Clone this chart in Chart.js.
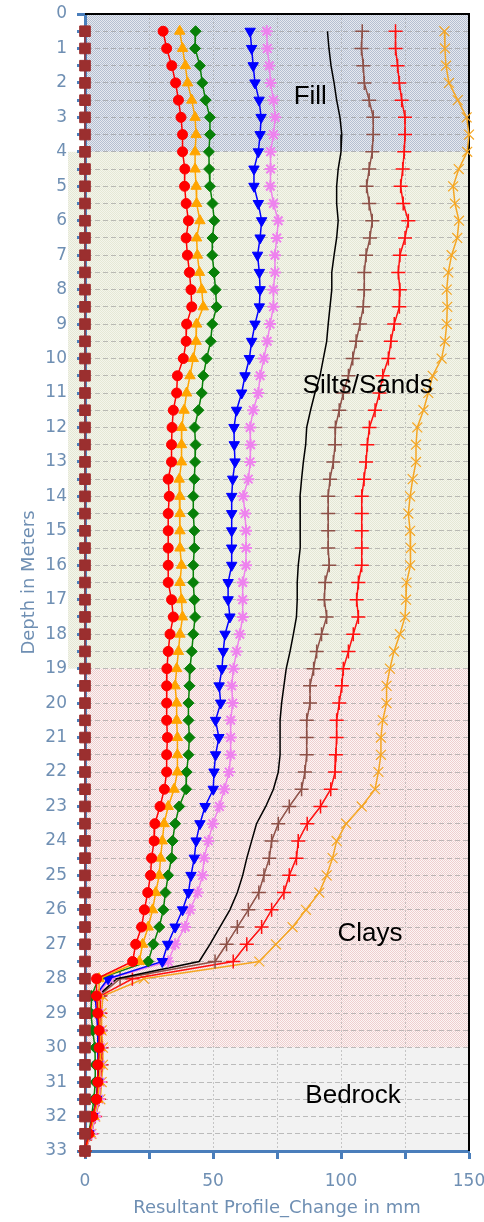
<!DOCTYPE html>
<html>
<head>
<meta charset="utf-8">
<script src="https://cdn.jsdelivr.net/npm/chart.js@4.4.1/dist/chart.umd.min.js"></script>
<style>
    html, body { margin: 0; padding: 0; background: #ffffff; }
    #contenedor { width: 484px; height: 1222px; position: relative; }
</style>
</head>
<body>
<div id="contenedor"><canvas id="grafica-perfil"></canvas></div>
<script>
// Profundidad en metros (eje vertical)
const profundidades = [
    0.5, 1, 1.5, 2, 2.5, 3, 3.5, 4, 4.5, 5,
    5.5, 6, 6.5, 7, 7.5, 8, 8.5, 9, 9.5, 10,
    10.5, 11, 11.5, 12, 12.5, 13, 13.5, 14, 14.5, 15,
    15.5, 16, 16.5, 17, 17.5, 18, 18.5, 19, 19.5, 20,
    20.5, 21, 21.5, 22, 22.5, 23, 23.5, 24, 24.5, 25,
    25.5, 26, 26.5, 27, 27.5, 28, 28.5, 29, 29.5, 30,
    30.5, 31, 31.5, 32, 32.5, 33
];

// Cambio de perfil en mm para cada lectura
const lecturaBase = [
    0, 0, 0, 0, 0, 0, 0, 0, 0, 0,
    0, 0, 0, 0, 0, 0, 0, 0, 0, 0,
    0, 0, 0, 0, 0, 0, 0, 0, 0, 0,
    0, 0, 0, 0, 0, 0, 0, 0, 0, 0,
    0, 0, 0, 0, 0, 0, 0, 0, 0, 0,
    0, 0, 0, 0, 0, 0, 0, 0, 0, 0,
    0, 0, 0, 0, 0, 0
];
const lecturaCirculos = [
    30.5, 31.9, 33.9, 35.4, 36.5, 37.5, 38.1, 38.1, 39, 38.9,
    39.5, 40.4, 39.5, 40, 40.8, 41.4, 41.7, 39.7, 39.5, 38.4,
    36.1, 35.8, 34.5, 34, 33.8, 33.8, 32.5, 32.9, 32.5, 32.5,
    32.5, 32.5, 32.5, 33.8, 34.5, 33.2, 32.5, 32, 31.9, 31.9,
    31.9, 32.2, 31.9, 31.9, 31, 29.3, 27.3, 27, 26, 25.6,
    24.5, 23.2, 22.1, 19.8, 18.6, 4.5, 4.5, 5, 5.5, 5.5,
    5, 5, 4.5, 3, 1.5, 0
];
const lecturaTriangulos = [
    37, 38.1, 39.2, 40.1, 41.7, 43, 43.4, 43, 43, 43.4,
    43.6, 44.9, 43.6, 43.9, 44.7, 45.6, 46.2, 43.6, 43.4, 42.3,
    41, 39.7, 38.7, 37.8, 37.7, 37.7, 36.8, 37.1, 37.1, 37.1,
    37.1, 37.7, 37.1, 37.7, 38.1, 37.1, 36.5, 35.8, 35.2, 35.8,
    35.8, 36.1, 36.1, 36.1, 34.8, 32.5, 30.9, 30.2, 29.5, 29,
    27.6, 26.4, 24.7, 22.5, 21.2, 5.5, 5.5, 5.5, 6, 6,
    6, 5.5, 5, 3.5, 2, 0
];
const lecturaRombos = [
    43.2, 43, 44.9, 45.8, 47.1, 48.8, 48.8, 48.4, 48.5, 48.8,
    49.8, 50.5, 49.8, 49.7, 50.4, 51, 51.4, 49.7, 49.1, 47.5,
    46.2, 45.6, 44.3, 42.8, 43.2, 43, 42.7, 42.3, 42.3, 42.7,
    42.7, 42.3, 42.3, 42.7, 43, 42.3, 41.7, 41, 40.8, 40.4,
    40.4, 40.8, 40.4, 39.7, 39.5, 36.8, 35.2, 34.2, 33.8, 32.5,
    31.4, 30.6, 29, 26.7, 24.7, 5.2, 2.6, 2.3, 3, 3.9,
    4, 4, 3.5, 2.5, 1.5, 0
];
const lecturaInvertidos = [
    64.5, 65.1, 65.7, 66.4, 68, 68.8, 68.4, 67.7, 66, 66,
    67.7, 69, 68.4, 67.4, 68.1, 68.4, 68.1, 66.4, 65.1, 64.2,
    62.5, 61.2, 59.2, 58.2, 58.3, 58.6, 57.7, 57.3, 57.3, 57.3,
    57.3, 57.3, 55.9, 55.9, 56.6, 54.7, 54, 53.5, 52.4, 53,
    51, 52.3, 51, 50.4, 50.1, 46.9, 44.9, 43.4, 42.7, 41.4,
    40.4, 38.1, 35.2, 32.3, 30.2, 9, 4, 4.5, 5, 5,
    5, 5, 4.5, 3, 1.5, 0
];
const lecturaEstrellas = [
    71, 71.2, 72, 72.5, 73.6, 74.3, 73.6, 72.5, 72.5, 72.4,
    73.6, 75.5, 74.9, 74.2, 74.2, 73.6, 73.6, 72.3, 71.2, 69.9,
    68.4, 67.7, 65.7, 64.5, 64.7, 64.5, 63.8, 61.8, 62.5, 62.9,
    62.9, 62.9, 61.6, 61.6, 61.6, 60.5, 59.2, 58, 57.3, 57.7,
    56.9, 56.9, 56.9, 56.3, 54.4, 52.5, 49.9, 48.2, 46.5, 45.9,
    44, 41, 39.1, 35.2, 32.5, 9.5, 5, 5.5, 6, 6,
    6, 6, 5.5, 4, 2.5, 0
];
const lecturaNegra = [
    94.7, 95.3, 96.1, 97.3, 98.3, 99.6, 100.3, 100, 98.9, 98.3,
    98.3, 98.9, 98.3, 97.3, 96.4, 96.4, 95.7, 95, 94.4, 93.1,
    91.8, 89.8, 88.1, 86.6, 86.2, 85.3, 84.6, 84, 84.2, 84,
    84, 83.3, 82.9, 82.9, 82.6, 81.4, 80.1, 78.6, 77.7, 76.8,
    76.2, 76.2, 76.2, 75.5, 73.6, 70.6, 67, 65.1, 63.2, 61.6,
    59.5, 56.6, 52.7, 48.8, 44.6, 12.4, 5, 5, 5.5, 5.5,
    5.5, 5, 4.5, 3, 2, 0
];
const lecturaCrucesMarron = [
    108.3, 108, 108.7, 109.1, 111, 112.6, 112.6, 112.2, 111, 110,
    111, 112.2, 111.3, 109.8, 109.1, 109.1, 108.7, 107.4, 105.9, 104.6,
    102.9, 100.9, 99.3, 97.8, 97.7, 97, 95.7, 95, 95, 95,
    95, 95.4, 93.8, 93.5, 94.4, 92.4, 90.5, 89.3, 87.9, 87.9,
    86.6, 86.6, 86.6, 85.9, 84.6, 79.8, 75.5, 72.9, 72, 69.9,
    67.9, 63.8, 59.5, 55.3, 50.8, 13.7, 5.5, 5.5, 6, 6,
    6, 5.5, 5, 3.5, 2, 0
];
const lecturaCrucesRojas = [
    121.3, 121.3, 122.1, 122.8, 123.7, 125, 125, 124.7, 124.1, 123.3,
    124.3, 126.3, 125, 123, 122.4, 123, 122.8, 120.8, 119.5, 118.5,
    116.3, 115, 113.3, 111.1, 110.3, 109.8, 109, 108.1, 108.1, 108.1,
    108.1, 108.1, 106.8, 106.1, 106.8, 104.8, 102.9, 100.9, 100.3, 99.3,
    98.3, 98.3, 98, 97.7, 96, 92, 86.8, 83.3, 82.6, 79.8,
    77.7, 72.9, 69, 63.2, 57.9, 18.5, 6, 6, 6, 6.5,
    6.5, 6, 5.5, 4, 2.5, 0
];
const lecturaAspas = [
    140.4, 140.6, 141, 142.2, 145.6, 149.1, 150, 149.3, 146, 143.8,
    144.5, 146.1, 145.4, 143.2, 141.9, 141.3, 141.5, 141.3, 140.6, 139.3,
    135.8, 134.1, 132.2, 129.8, 129.3, 129.3, 128, 127, 126.3, 127,
    127.3, 127, 125.6, 125.4, 125, 123, 120.7, 119.1, 117.8, 117.8,
    116.3, 115.6, 115.6, 114.6, 113.3, 108.1, 102, 98.3, 96.7, 94.4,
    91.5, 86.3, 81.1, 74.6, 68.1, 23, 7, 6.5, 6.5, 7,
    7, 6.5, 6, 4, 2.5, 0
];

// Estratos del terreno
const zonaNombres = ["Fill", "Silts/Sands", "Clays", "Bedrock"];
const zonaInicio = [0, 4, 19, 30];
const zonaFin = [4, 19, 30, 33];

const colorEje = "#4a7ebb";
const colorTexto = "#6f8fb3";

function serie(etiqueta, valores, color, estilo) {
    return {
        label: etiqueta,
        data: valores.map((valor, i) => ({ x: valor, y: profundidades[i] })),
        borderColor: color,
        backgroundColor: color,
        showLine: true,
        borderWidth: 1.5,
        pointBorderWidth: 1,
        clip: false,
        ...estilo
    };
}

function crearPatron(ctx, claro, oscuro) {
    const lienzo = document.createElement("canvas");
    lienzo.width = 2;
    lienzo.height = 2;
    const c = lienzo.getContext("2d");
    c.fillStyle = claro;
    c.fillRect(0, 0, 2, 2);
    c.fillStyle = oscuro;
    c.fillRect(0, 0, 1, 1);
    c.fillRect(1, 1, 1, 1);
    return ctx.createPattern(lienzo, "repeat");
}

const pluginZonas = {
    id: "zonas",
    beforeDraw(chart) {
        const { ctx, chartArea, scales } = chart;
        const rellenos = [
            crearPatron(ctx, "#e6e9f0", "#b5bfd1"),
            crearPatron(ctx, "#f4f5ec", "#e5e8d5"),
            crearPatron(ctx, "#fcf5f5", "#efcfcf"),
            "#f2f2f2"
        ];
        ctx.save();
        zonaInicio.forEach((inicio, i) => {
            const y1 = scales.y.getPixelForValue(inicio);
            const y2 = scales.y.getPixelForValue(zonaFin[i]);
            const izquierda = i === 1 ? chartArea.left - 17 : chartArea.left;
            ctx.fillStyle = rellenos[i];
            ctx.fillRect(izquierda, y1, chartArea.right - izquierda, y2 - y1);
        });
        ctx.restore();
    },
    beforeDatasetsDraw(chart) {
        const { ctx, chartArea } = chart;
        ctx.save();
        ctx.strokeStyle = "#000000";
        ctx.lineWidth = 2;
        ctx.beginPath();
        ctx.moveTo(chartArea.left, chartArea.top);
        ctx.lineTo(chartArea.right, chartArea.top);
        ctx.lineTo(chartArea.right, chartArea.bottom);
        ctx.stroke();
        ctx.restore();
    },
    afterDatasetsDraw(chart, args, opciones) {
        const { ctx, scales } = chart;
        ctx.save();
        ctx.fillStyle = "#000000";
        ctx.font = "26px 'Liberation Sans', Arial, sans-serif";
        ctx.textAlign = "center";
        ctx.textBaseline = "middle";
        zonaNombres.forEach((nombre, i) => {
            const pos = opciones.posiciones[i];
            ctx.fillText(nombre, scales.x.getPixelForValue(pos.x), scales.y.getPixelForValue(pos.y));
        });
        ctx.restore();
    }
};

const datasets = [
    serie("Base", lecturaBase, "#9b2f2f", { pointStyle: "rect", pointRadius: 7.5 }),
    serie("Lectura 1", lecturaCirculos, "#ff0000", { pointStyle: "circle", pointRadius: 5 }),
    serie("Lectura 2", lecturaTriangulos, "#ffa500", { pointStyle: "triangle", pointRadius: 6 }),
    serie("Lectura 3", lecturaRombos, "#088008", { pointStyle: "rectRot", pointRadius: 5.5 }),
    serie("Lectura 4", lecturaInvertidos, "#0000ff", { pointStyle: "triangle", pointRotation: 180, pointRadius: 6 }),
    serie("Lectura 5", lecturaEstrellas, "#ee82ee", { pointStyle: "star", pointRadius: 6, pointBorderWidth: 2 }),
    serie("Lectura 6", lecturaNegra, "#000000", { pointRadius: 0 }),
    serie("Lectura 7", lecturaCrucesMarron, "#8e5148", { pointStyle: "cross", pointRadius: 7, pointBorderWidth: 1.5 }),
    serie("Lectura 8", lecturaCrucesRojas, "#ff1010", { pointStyle: "cross", pointRadius: 7, pointBorderWidth: 1.5 }),
    serie("Lectura 9", lecturaAspas, "#f5a623", { pointStyle: "crossRot", pointRadius: 7, pointBorderWidth: 1.2 })
];

new Chart(document.getElementById("grafica-perfil"), {
    type: "scatter",
    data: { datasets: datasets },
    plugins: [pluginZonas],
    options: {
        responsive: true,
        maintainAspectRatio: false,
        animation: false,
        layout: { padding: { top: 14, right: 15, bottom: 0, left: 0 } },
        plugins: {
            legend: { display: false },
            tooltip: { enabled: false },
            zonas: {
                posiciones: [
                    { x: 88, y: 2.4 },
                    { x: 110.4, y: 10.8 },
                    { x: 111.3, y: 26.7 },
                    { x: 104.7, y: 31.4 }
                ]
            }
        },
        scales: {
            x: {
                type: "linear",
                position: "bottom",
                min: 0,
                max: 150,
                afterFit: (escala) => {
                    escala.height = 71;
                    escala.paddingLeft = 0;
                    escala.paddingRight = 0;
                },
                ticks: {
                    stepSize: 25,
                    autoSkip: false,
                    maxRotation: 0,
                    padding: 12,
                    color: colorTexto,
                    font: { family: "'DejaVu Sans'", size: 17 },
                    callback: (valor) => (valor % 50 === 0 ? valor : "")
                },
                grid: {
                    color: "rgba(160, 160, 160, 0.55)",
                    lineWidth: 1,
                    tickColor: colorEje,
                    tickLength: 8,
                    tickWidth: 3
                },
                border: { color: colorEje, width: 3, dash: [2, 2] },
                title: {
                    display: true,
                    text: "Resultant Profile_Change in mm",
                    color: colorTexto,
                    font: { family: "'DejaVu Sans'", size: 18 },
                    padding: { top: 0, bottom: 3 }
                }
            },
            y: {
                type: "linear",
                position: "left",
                reverse: true,
                min: 0,
                max: 33,
                afterFit: (escala) => {
                    escala.width = 85;
                    escala.paddingTop = 0;
                    escala.paddingBottom = 0;
                },
                ticks: {
                    stepSize: 0.5,
                    autoSkip: false,
                    padding: 10,
                    color: colorTexto,
                    font: { family: "'DejaVu Sans'", size: 17 },
                    callback: (valor) => (valor % 1 === 0 ? valor : "")
                },
                grid: {
                    color: "rgba(150, 150, 150, 0.6)",
                    lineWidth: 1,
                    tickColor: colorEje,
                    tickLength: 8,
                    tickWidth: 3
                },
                border: { color: colorEje, width: 3, dash: [5, 3] },
                title: {
                    display: true,
                    text: "Depth in Meters",
                    color: colorTexto,
                    font: { family: "'DejaVu Sans'", size: 18 },
                    padding: { top: 19, bottom: 0 }
                }
            }
        }
    }
});
</script>
</body>
</html>
